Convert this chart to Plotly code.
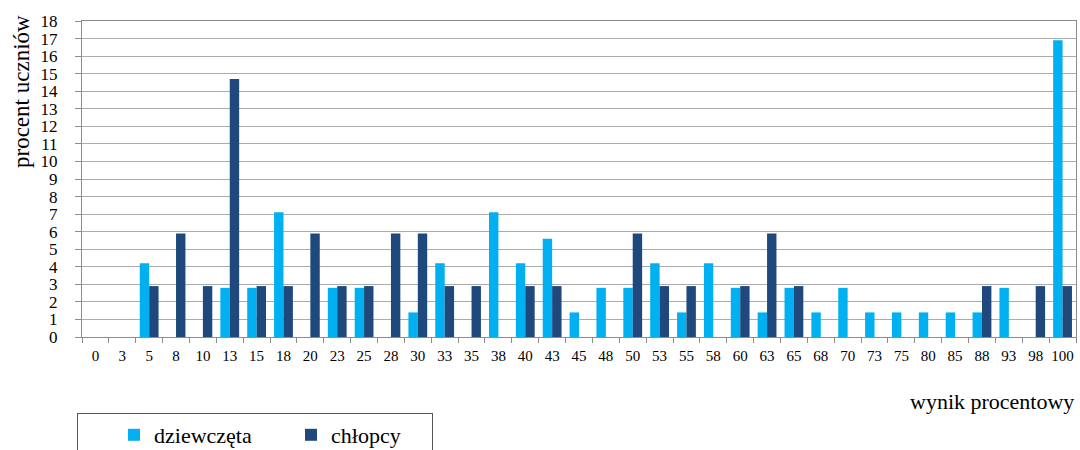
import plotly.graph_objects as go

categories = ["0", "3", "5", "8", "10", "13", "15", "18", "20", "23", "25", "28", "30", "33", "35",
              "38", "40", "43", "45", "48", "50", "53", "55", "58", "60", "63", "65", "68", "70",
              "73", "75", "80", "85", "88", "93", "98", "100"]
girls = [0, 0, 4.2, 0, 0, 2.8, 2.8, 7.1, 0, 2.8, 2.8, 0, 1.4, 4.2, 0,
         7.1, 4.2, 5.6, 1.4, 2.8, 2.8, 4.2, 1.4, 4.2, 2.8, 1.4, 2.8, 1.4, 2.8,
         1.4, 1.4, 1.4, 1.4, 1.4, 2.8, 0, 16.9]
boys = [0, 0, 2.9, 5.9, 2.9, 14.7, 2.9, 2.9, 5.9, 2.9, 2.9, 5.9, 5.9, 2.9, 2.9,
        0, 2.9, 2.9, 0, 0, 5.9, 2.9, 2.9, 0, 2.9, 5.9, 2.9, 0, 0,
        0, 0, 0, 0, 2.9, 0, 2.9, 2.9]
y_ticks = list(range(0, 19))

SERIF = "Liberation Serif"
fig = go.Figure()
fig.add_trace(go.Bar(x=categories, y=girls, name="dziewczęta",
                     marker=dict(color="#00B0F0", line=dict(width=0))))
fig.add_trace(go.Bar(x=categories, y=boys, name="chłopcy",
                     marker=dict(color="#1F497D", line=dict(width=0))))

fig.update_layout(
    width=1080, height=450,
    margin=dict(l=82, r=4, t=21, b=113),
    paper_bgcolor="white", plot_bgcolor="white",
    barmode="group", bargap=0.3, bargroupgap=0,
    font=dict(family=SERIF, color="black"),
    showlegend=True,
    legend=dict(orientation="h", xref="container", yref="container",
                x=77/1080, y=1-413/450, xanchor="left", yanchor="top",
                bordercolor="#555555", borderwidth=1,
                font=dict(family=SERIF, size=22),
                entrywidth=96, indentation=36,
                itemsizing="constant"),
    annotations=[
        dict(text="procent uczniów", textangle=-90, xref="paper", yref="paper",
             x=(22-82)/994, y=(337-92)/316, xanchor="center", yanchor="middle",
             showarrow=False, font=dict(family=SERIF, size=23)),
        dict(text="wynik procentowy", xref="paper", yref="paper",
             x=1.0, y=-(401-337)/316, xanchor="right", yanchor="middle",
             showarrow=False, font=dict(family=SERIF, size=22)),
    ],
)
fig.update_xaxes(type="category", showgrid=False, showline=True, linecolor="#8C8C8C",
                 linewidth=1, mirror=True, ticks="outside", tickson="boundaries",
                 ticklen=5, tickcolor="#8C8C8C", ticklabelstandoff=5,
                 tickfont=dict(family=SERIF, size=15), tickangle=0)
fig.update_yaxes(range=[0, 18], tickvals=y_ticks, ticktext=[str(v) for v in y_ticks],
                 showgrid=True, gridcolor="#ABABAB", gridwidth=1,
                 showline=True, linecolor="#8C8C8C", linewidth=1, mirror=True,
                 ticks="outside", ticklen=6, tickcolor="#8C8C8C", ticklabelstandoff=14,
                 tickfont=dict(family=SERIF, size=17), zeroline=False)

fig.write_html("out.html", config={"displayModeBar": False},
               post_script="document.body.style.margin='0';document.body.style.overflow='hidden';")
